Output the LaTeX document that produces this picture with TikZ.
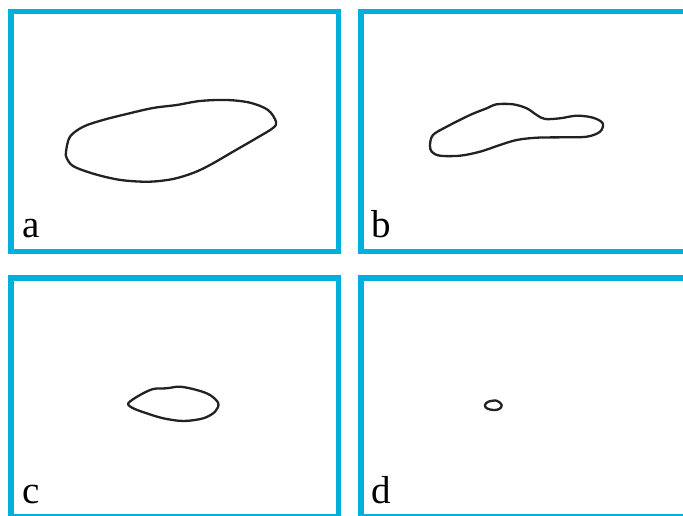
\documentclass[tikz,border=0pt]{standalone}
\usepackage{fontspec}
\setmainfont{Liberation Serif}
\definecolor{framecyan}{RGB}{0,176,220}
\definecolor{inkgray}{RGB}{34,34,34}

\begin{document}
\begin{tikzpicture}[x=1pt, y=-1pt,
  panel/.style={draw=framecyan, line width=5.5pt},
  outline/.style={draw=inkgray, line width=2.3pt, line join=round},
  tag/.style={inner sep=0pt, anchor=base west, font=\fontsize{39}{39}\selectfont}]

\useasboundingbox (0,0) rectangle (683,516);
\clip (0,0) rectangle (683,516);

% panel corners
\coordinate (a0) at (10.75,11.75);
\coordinate (a1) at (338.25,251.25);
\coordinate (b0) at (360.75,11.75);
\coordinate (b1) at (688.25,251.25);
\coordinate (c0) at (10.75,277.75);
\coordinate (c1) at (338.25,516.25);
\coordinate (d0) at (360.75,277.75);
\coordinate (d1) at (688.25,516.25);

% draw frames
\draw [panel] (a0) rectangle (a1);
\draw [panel] (b0) rectangle (b1);
\draw [panel] (c0) rectangle (c1);
\draw [panel] (d0) rectangle (d1);

% add letters
\node [tag] (lblA) at (22,237) {a};
\node [tag] (lblB) at (371,237) {b};
\node [tag] (lblC) at (22,503) {c};
\node [tag] (lblD) at (371,503) {d};

% draw outlines
\draw [outline] plot [smooth cycle, tension=0.55] coordinates {
  (66,151.7) (70,136.7) (83.3,126.7) (103,120) (126.7,114) (153,108)
  (176.7,105) (200,101) (226.7,100) (250,102.7) (268,110) (276,121.7)
  (273,128) (256.7,138) (233,151.7) (210,165) (193,173) (173,179)
  (150,181.7) (126.7,180.7) (110,178) (90,172.7) (73,166) (66.7,158)};

\draw [outline] plot [smooth cycle, tension=0.55] coordinates {
  (430,145) (433,135) (446.7,126.7) (470,115) (486.7,108.3) (496.7,104.3)
  (513,104.3) (526.7,108.3) (536.7,115) (545,119) (560,118.3) (576.7,115.7)
  (593,117.7) (602.7,123.3) (600,131.7) (586.7,136.7) (563,137.3) (536.7,137.7)
  (516.7,140) (500,145) (480,151.7) (460,155.7) (440,155.7) (431.7,151.7)};

\draw [outline] plot [smooth cycle, tension=0.55] coordinates {
  (128.3,403.3) (140,395) (153.3,389) (166.7,388.3) (180,386.7) (196.7,390)
  (210,395) (218.3,403.3) (215,411.7) (203.3,418.3) (183.3,421) (163.3,418.3)
  (146.7,413.3) (133.3,408.3)};

\draw [outline] plot [smooth cycle, tension=0.6] coordinates {
  (485,405) (488.3,401.7) (496.7,400.7) (501.7,405) (499.3,409) (493.3,410)
  (486.7,408.3)};

\end{tikzpicture}
\end{document}
